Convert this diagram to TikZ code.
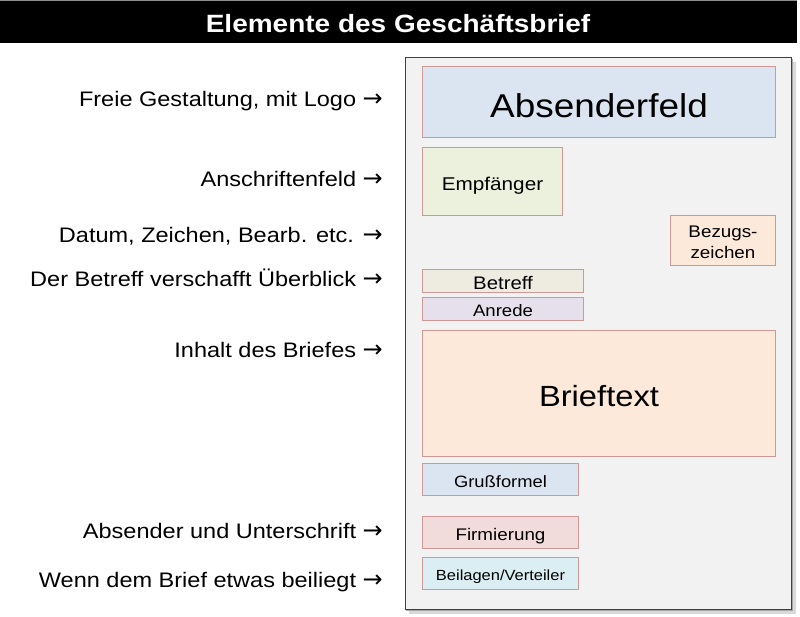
\documentclass[tikz,border=0pt]{standalone}
\usepackage{fontspec}
\setmainfont{Liberation Sans}[FakeStretch=1.12]
\newfontfamily\pfeilschrift{DejaVu Sans}
\usepackage{tikz}
\def\breite{800}
\def\hoehe{617}
\newcommand{\schrift}[2]{\fontsize{#1pt}{#2pt}\selectfont}
\definecolor{Rand}{HTML}{CD9896}
\definecolor{Blatt}{HTML}{F2F2F2}
\definecolor{blauhell}{HTML}{DBE5F1}
\definecolor{gruenhell}{HTML}{EBF1DD}
\definecolor{orangehell}{HTML}{FDE9D9}
\definecolor{beigehell}{HTML}{EEECE1}
\definecolor{lilahell}{HTML}{E5E0EC}
\definecolor{rothell}{HTML}{F2DCDB}
\definecolor{tuerkishell}{HTML}{DBEEF3}

\begin{document}
\begin{tikzpicture}[x=1pt, y=-1pt,
  feld/.style={draw=Rand, line width=1pt, inner sep=0pt, anchor=north west, align=center,
    font=\schrift{#1}{\fpeval{1.25*#1}}, text height={\fpeval{0.92*#1}pt}, text depth=0pt},
  hinweis/.style={anchor=base east, inner sep=0pt, font=\schrift{21}{25}},
  titel/.style={anchor=base, text=white, font=\schrift{25}{30}\bfseries}]
\useasboundingbox (0,0) rectangle (\breite,\hoehe);
%\draw[step=50, black!20] (0,0) grid (\breite,\hoehe);
% Kopfzeile
\fill[black] (0,0) rectangle (797,43);
\draw[black!45, line width=1pt] (0,0.5) -- (797,0.5);
\node[titel] (titel) at (398,33) {Elemente des Geschäftsbrief};
% Blatt mit Schatten
\fill[black!15] (409,62) rectangle (796,614);
\fill[black!35] (406,59) rectangle (793,611);
\draw[black!75, fill=Blatt, line width=1pt] (405,58) rectangle (791,609);
% Felder
\node[feld=33, fill=blauhell, minimum width=353pt, minimum height=71pt] (absender) at (422,66) {Absenderfeld};
\node[feld=18.5, fill=gruenhell, minimum width=140pt, minimum height=68pt] (empfaenger) at (422,147) {Empfänger};
\node[feld=16.8, fill=orangehell, minimum width=105pt, minimum height=50pt, font=\schrift{16.8}{21},
  text height=36pt, text depth=0pt] (bezug) at (670,215) {Bezugs-\\zeichen};
\node[feld=18.2, fill=beigehell, minimum width=161pt, minimum height=23pt] (betreff) at (422,269) {Betreff};
\node[feld=16.6, fill=lilahell, minimum width=161pt, minimum height=23pt] (anrede) at (422,297) {Anrede};
\node[feld=29.2, fill=orangehell, minimum width=353pt, minimum height=126pt] (brieftext) at (422,330) {Brieftext};
\node[feld=16.4, fill=blauhell, minimum width=156pt, minimum height=32pt] (gruss) at (422,463) {Grußformel};
\node[feld=16.8, fill=rothell, minimum width=156pt, minimum height=32pt] (firma) at (422,516) {Firmierung};
\node[feld=14.7, fill=tuerkishell, minimum width=156pt, minimum height=32pt] (beilagen) at (422,557) {Beilagen/Verteiler};
% Hinweise links
\foreach \y/\txt [count=\i] in {107/{Freie Gestaltung, mit Logo}, 187/Anschriftenfeld,
    243/{Datum, Zeichen, Bearb. etc.}, 287/Der Betreff verschafft Überblick,
    357/Inhalt des Briefes, 538/Absender und Unterschrift, 587/Wenn dem Brief etwas beiliegt}
  \node[hinweis] (hinweis\i) at (383,\y) {\txt{} {\pfeilschrift\fontsize{24pt}{24pt}\selectfont →}};
\end{tikzpicture}
\end{document}
